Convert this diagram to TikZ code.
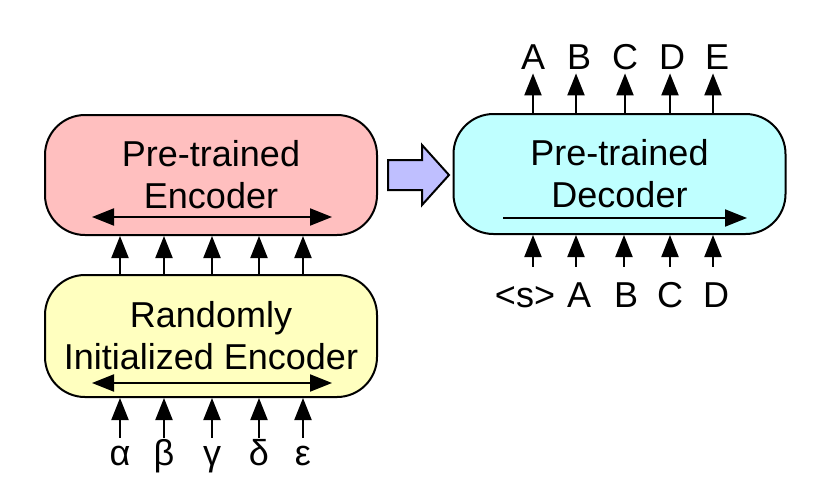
\documentclass[tikz,border=0pt]{standalone}
\usepackage{fontspec}
\setmainfont{Liberation Sans}
\usetikzlibrary{positioning,arrows.meta}
\definecolor{encpink}{HTML}{FFBFBF}
\definecolor{randyellow}{HTML}{FFFFBF}
\definecolor{deccyan}{HTML}{BFFFFF}
\definecolor{movelilac}{HTML}{BFBFFF}

\begin{document}
\begin{tikzpicture}[x=0.5pt,y=-0.5pt,font=\fontsize{18}{21}\selectfont,
block/.style={draw,line width=1pt,rounded corners=20pt,minimum width=166pt,minimum height=60pt,align=center},
arr/.style={-{Triangle[length=11pt,width=8.5pt]},line width=1pt},
darr/.style={{Triangle[length=11pt,width=8.5pt]}-{Triangle[length=11pt,width=8.5pt]},line width=1pt},
lab/.style={inner sep=0pt,anchor=base,text height=13pt,text depth=0pt}]
\useasboundingbox (0,0) rectangle (824,478);
% boxes
\node[block,fill=encpink] (enc) at (211,175) {Pre-trained\\Encoder};
\node[block,fill=randyellow,minimum height=61pt] (rand) at (211,336) {Randomly\\Initialized Encoder};
\node[block,fill=deccyan] (dec) at (619.5,174) {Pre-trained\\Decoder};
% direction arrows inside the boxes
\coordinate (encL) at (92,217);
\coordinate (encR) at (332,217);
\coordinate (randL) at (92,383);
\coordinate (randR) at (332,383);
\coordinate (decL) at (503,218);
\coordinate (decR) at (747,218);
\draw[darr] (encL) -- (encR);
\draw[darr] (randL) -- (randR);
\draw[arr] (decL) -- (decR);
% big arrow
\draw[line width=1pt,fill=movelilac] (388,160) -- (422,160) -- (422,145) -- (449,175)
 -- (422,205) -- (422,190) -- (388,190) -- cycle;
% inputs of the encoder
\node[lab] (g1) at (120,465) {α};
\node[lab] (g2) at (164,465) {β};
\node[lab] (g3) at (212,465) {γ};
\node[lab] (g4) at (259,465) {δ};
\node[lab] (g5) at (303,465) {ε};
\draw[arr,shorten <=0.5pt] (g1.north) -- (g1 |- rand.south);
\draw[arr,shorten <=0.5pt] (g2.north) -- (g2 |- rand.south);
\draw[arr,shorten <=0.5pt] (g3.north) -- (g3 |- rand.south);
\draw[arr,shorten <=0.5pt] (g4.north) -- (g4 |- rand.south);
\draw[arr,shorten <=0.5pt] (g5.north) -- (g5 |- rand.south);
\draw[arr] (g1 |- rand.north) -- (g1 |- enc.south);
\draw[arr] (g2 |- rand.north) -- (g2 |- enc.south);
\draw[arr] (g3 |- rand.north) -- (g3 |- enc.south);
\draw[arr] (g4 |- rand.north) -- (g4 |- enc.south);
\draw[arr] (g5 |- rand.north) -- (g5 |- enc.south);
% inputs of the decoder
\node[lab] (s1) at (525,307) {<s>};
\node[lab] (s2) at (579,307) {A};
\node[lab] (s3) at (626,307) {B};
\node[lab] (s4) at (670,307) {C};
\node[lab] (s5) at (716,307) {D};
\draw[arr,shorten <=7pt] ([xshift=4pt]s1.north) -- ([xshift=4pt]s1.north |- dec.south);
\draw[arr,shorten <=7pt] ([xshift=-1.5pt]s2.north) -- ([xshift=-1.5pt]s2.north |- dec.south);
\draw[arr,shorten <=7pt] ([xshift=-1pt]s3.north) -- ([xshift=-1pt]s3.north |- dec.south);
\draw[arr,shorten <=7pt] (s4.north) -- (s4 |- dec.south);
\draw[arr,shorten <=7pt] ([xshift=-1.5pt]s5.north) -- ([xshift=-1.5pt]s5.north |- dec.south);
% outputs of the decoder
\node[lab] (o1) at (533,69) {A};
\node[lab] (o2) at (579,69) {B};
\node[lab] (o3) at (625,69) {C};
\node[lab] (o4) at (672,69) {D};
\node[lab] (o5) at (717,69) {E};
\draw[arr,shorten >=2pt] ([xshift=0pt]o1.south |- dec.north) -- (o1.south);
\draw[arr,shorten >=2pt] ([xshift=-1.5pt]o2.south |- dec.north) -- ([xshift=-1.5pt]o2.south);
\draw[arr,shorten >=2pt] (o3 |- dec.north) -- (o3.south);
\draw[arr,shorten >=2pt] ([xshift=-1pt]o4.south |- dec.north) -- ([xshift=-1pt]o4.south);
\draw[arr,shorten >=2pt] ([xshift=-2pt]o5.south |- dec.north) -- ([xshift=-2pt]o5.south);
\end{tikzpicture}
\end{document}
